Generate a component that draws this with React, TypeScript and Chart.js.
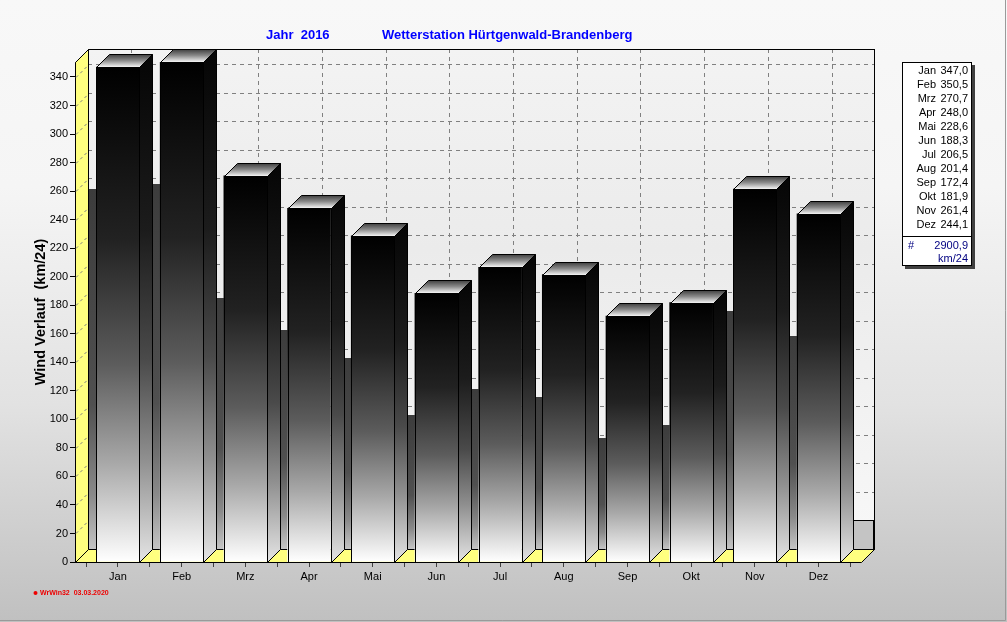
import React, { useEffect, useRef } from 'react';
import { Chart, registerables } from 'chart.js';

Chart.register(...registerables);

const MONTHS = ['Jan', 'Feb', 'Mrz', 'Apr', 'Mai', 'Jun', 'Jul', 'Aug', 'Sep', 'Okt', 'Nov', 'Dez'];
const VALUES = [347.0, 350.5, 270.7, 248.0, 228.6, 188.3, 206.5, 201.4, 172.4, 181.9, 261.4, 244.1];
const Y_TICKS = [0, 20, 40, 60, 80, 100, 120, 140, 160, 180, 200, 220, 240, 260, 280, 300, 320, 340];
const X_TICKS = [-0.5, 0, 0.5, 1, 1.5, 2, 2.5, 3, 3.5, 4, 4.5, 5, 5.5, 6, 6.5, 7, 7.5, 8, 8.5, 9, 9.5, 10, 10.5, 11, 11.5];
const Y_MAX = 350.5;
const X_MIN = -0.675;
const X_MAX = 11.667;
const TITLE_YEAR = 'Jahr  2016';
const TITLE_STATION = 'Wetterstation Hürtgenwald-Brandenberg';
const Y_TITLE = 'Wind Verlauf  (km/24)';
const TOTAL_MARK = '#';
const TOTAL_VALUE = '2900,9';
const TOTAL_UNIT = 'km/24';
const FOOTER_TEXT = 'WrWin32  03.03.2020';

const FONT = "'Liberation Sans', Arial, sans-serif";
const DEPTH = 13;
const YELLOW = '#ffff80';

type Stop = [number, string];
const FRONT_STOPS: Stop[] = [[0, '#000000'], [0.35, '#222222'], [0.6, '#5c5c5c'], [0.8, '#a8a8a8'], [1, '#ffffff']];
const SIDE_STOPS: Stop[] = [[0, '#050505'], [0.35, '#1c1c1c'], [0.6, '#4a4a4a'], [0.8, '#909090'], [1, '#e4e4e4']];
const STRIP_STOPS: Stop[] = [[0, '#3c3c3c'], [0.6, '#505050'], [0.85, '#8a8a8a'], [1, '#c4c4c4']];

function grad(ctx: CanvasRenderingContext2D, y0: number, y1: number, stops: Stop[]) {
  const g = ctx.createLinearGradient(0, y0, 0, y1);
  stops.forEach(([o, c]) => g.addColorStop(o, c));
  return g;
}

function barBoxes(chart: any) {
  const meta = chart.getDatasetMeta(0);
  return meta.data.map((el: any) => {
    const p = el.getProps(['x', 'y', 'width', 'base'], true);
    return {
      left: Math.round(p.x - p.width / 2),
      right: Math.round(p.x + p.width / 2),
      top: Math.round(p.y),
      base: Math.round(p.base),
    };
  });
}

function poly(ctx: CanvasRenderingContext2D, pts: number[][]) {
  ctx.beginPath();
  ctx.moveTo(pts[0][0], pts[0][1]);
  for (let i = 1; i < pts.length; i++) ctx.lineTo(pts[i][0], pts[i][1]);
  ctx.closePath();
}

const scenePlugin = {
  id: 'scene3d',
  beforeDraw(chart: any) {
    const { ctx, width, height } = chart;
    ctx.save();
    ctx.fillStyle = grad(ctx, 0, height, [[0, '#f8f8f8'], [0.3, '#f5f5f5'], [0.65, '#e2e2e2'], [1, '#c0c0c0']]);
    ctx.fillRect(0, 0, width, height);
    ctx.strokeStyle = '#9a9a9a';
    ctx.lineWidth = 1;
    ctx.beginPath();
    ctx.moveTo(width - 1.5, 0);
    ctx.lineTo(width - 1.5, height - 1.5);
    ctx.lineTo(0, height - 1.5);
    ctx.stroke();
    ctx.restore();
  },
  beforeDatasetsDraw(chart: any) {
    const { ctx, chartArea: a, scales } = chart;
    const xs = scales.x;
    const ys = scales.y;
    const d = DEPTH;
    const L = Math.round(a.left), R = Math.round(a.right), T = Math.round(a.top), B = Math.round(a.bottom);
    ctx.save();
    ctx.lineWidth = 1;
    ctx.fillStyle = grad(ctx, T - d, B - d, [[0, '#f3f3f3'], [0.4, '#ebebeb'], [1, '#f8f8f8']]);
    ctx.fillRect(L + d, T - d, R - L, B - T);
    ctx.setLineDash([4, 4]);
    ctx.strokeStyle = '#808080';
    Y_TICKS.forEach((v) => {
      if (v === 0) return;
      const py = Math.round(ys.getPixelForValue(v)) - d + 0.5;
      ctx.beginPath();
      ctx.moveTo(L + d, py);
      ctx.lineTo(R + d, py);
      ctx.stroke();
    });
    MONTHS.forEach((_, i) => {
      const px = Math.round(xs.getPixelForValue(i)) + d + 0.5;
      ctx.beginPath();
      ctx.moveTo(px, T - d);
      ctx.lineTo(px, B - d);
      ctx.stroke();
    });
    ctx.setLineDash([]);
    ctx.strokeStyle = '#000';
    ctx.strokeRect(L + d + 0.5, T - d + 0.5, R - L, B - T);
    const boxes = barBoxes(chart);
    boxes.forEach((b: any, i: number) => {
      const sl = i === 0 ? L + d : boxes[i - 1].right + d;
      const sr = b.left;
      const st = Math.min(b.top + 122, B - d - 2);
      if (sr <= sl) return;
      ctx.fillStyle = grad(ctx, st, B - d, STRIP_STOPS);
      ctx.fillRect(sl, st, sr - sl, B - d - st);
    });
    if (boxes.length) {
      const last = boxes[boxes.length - 1];
      const sl = last.right + d;
      const st = B - d - 29;
      ctx.fillStyle = '#c4c4c4';
      ctx.fillRect(sl, st, R + d - sl, B - d - st);
      ctx.strokeStyle = '#000';
      ctx.strokeRect(sl + 0.5, st + 0.5, R + d - sl - 1, B - d - st);
    }
    ctx.fillStyle = YELLOW;
    poly(ctx, [[L + 0.5, B + 0.5], [L + 0.5, T + 0.5], [L + d + 0.5, T - d + 0.5], [L + d + 0.5, B - d + 0.5]]);
    ctx.fill();
    ctx.strokeStyle = '#000';
    ctx.stroke();
    ctx.setLineDash([3, 3]);
    ctx.strokeStyle = '#808080';
    Y_TICKS.forEach((v) => {
      if (v === 0) return;
      const py = Math.round(ys.getPixelForValue(v)) + 0.5;
      ctx.beginPath();
      ctx.moveTo(L + 1, py);
      ctx.lineTo(L + d, py - d + 1);
      ctx.stroke();
    });
    ctx.setLineDash([]);
    ctx.fillStyle = YELLOW;
    poly(ctx, [[L + 0.5, B + 0.5], [R + 0.5, B + 0.5], [R + d + 0.5, B - d + 0.5], [L + d + 0.5, B - d + 0.5]]);
    ctx.fill();
    ctx.strokeStyle = '#000';
    ctx.stroke();
    ctx.restore();
  },
  afterDatasetsDraw(chart: any) {
    const { ctx } = chart;
    const d = DEPTH;
    const boxes = barBoxes(chart);
    ctx.save();
    ctx.lineWidth = 1;
    ctx.strokeStyle = '#000';
    boxes.forEach((b: any) => {
      const l = b.left + 0.5, r = b.right + 0.5, t = b.top + 0.5, bs = b.base + 0.5;
      ctx.fillStyle = grad(ctx, b.top - d, b.base, SIDE_STOPS);
      poly(ctx, [[r, t], [r + d, t - d], [r + d, bs - d], [r, bs]]);
      ctx.fill();
      ctx.stroke();
      ctx.fillStyle = grad(ctx, b.top - d, b.top, [[0, '#3a3a3a'], [0.5, '#8a8a8a'], [1, '#f4f4f4']]);
      poly(ctx, [[l, t], [l + d, t - d], [r + d, t - d], [r, t]]);
      ctx.fill();
      ctx.stroke();
      ctx.strokeRect(l, t, b.right - b.left, b.base - b.top);
    });
    ctx.restore();
  },
  afterDraw(chart: any) {
    const { ctx } = chart;
    ctx.save();
    ctx.fillStyle = '#0000ff';
    ctx.font = `bold 13px ${FONT}`;
    ctx.textBaseline = 'alphabetic';
    ctx.textAlign = 'left';
    ctx.fillText(TITLE_YEAR, 266, 39);
    ctx.fillText(TITLE_STATION, 382, 39);

    const bx = 902, by = 62, bw = 70, bh = 204;
    ctx.fillStyle = '#404040';
    ctx.fillRect(bx + 3, by + 3, bw, bh);
    ctx.fillStyle = '#ffffff';
    ctx.fillRect(bx, by, bw, bh);
    ctx.strokeStyle = '#000';
    ctx.lineWidth = 1;
    ctx.strokeRect(bx + 0.5, by + 0.5, bw - 1, bh - 1);
    ctx.font = `11px ${FONT}`;
    ctx.textBaseline = 'middle';
    ctx.fillStyle = '#000';
    MONTHS.forEach((m, i) => {
      const yy = by + 9 + i * 14;
      ctx.textAlign = 'right';
      ctx.fillText(m, 936, yy);
      ctx.fillText(VALUES[i].toFixed(1).replace('.', ','), 968, yy);
    });
    const sepY = by + 9 + 12 * 14 - 3;
    ctx.beginPath();
    ctx.moveTo(bx, sepY + 0.5);
    ctx.lineTo(bx + bw, sepY + 0.5);
    ctx.stroke();
    ctx.fillStyle = '#000080';
    ctx.textAlign = 'left';
    ctx.fillText(TOTAL_MARK, 908, sepY + 10);
    ctx.textAlign = 'right';
    ctx.fillText(TOTAL_VALUE, 968, sepY + 10);
    ctx.fillText(TOTAL_UNIT, 968, sepY + 23);

    ctx.fillStyle = '#ee0000';
    ctx.beginPath();
    ctx.arc(35.5, 593, 2, 0, Math.PI * 2);
    ctx.fill();
    ctx.font = `bold 7px ${FONT}`;
    ctx.textAlign = 'left';
    ctx.textBaseline = 'middle';
    ctx.fillText(FOOTER_TEXT, 40, 593);
    ctx.restore();
  },
};

export default function App() {
  const ref = useRef<HTMLCanvasElement>(null);
  useEffect(() => {
    const canvas = ref.current;
    if (!canvas) return;
    Chart.defaults.font.family = FONT;
    const chart = new Chart(canvas, {
      type: 'bar',
      data: {
        datasets: [
          {
            data: VALUES.map((v, i) => ({ x: i, y: v })),
            barThickness: 43,
            borderWidth: 0,
            backgroundColor: (c: any) => {
              const ch = c.chart;
              if (!ch.chartArea || c.type !== 'data') return '#000';
              const top = ch.scales.y.getPixelForValue(c.parsed.y);
              const base = ch.scales.y.getPixelForValue(0);
              return grad(ch.ctx, top, base, FRONT_STOPS);
            },
          },
        ],
      },
      options: {
        responsive: false,
        devicePixelRatio: 1,
        animation: false,
        layout: { padding: { left: 0, top: 62, right: 146, bottom: 30 } },
        plugins: { legend: { display: false }, tooltip: { enabled: false } },
        scales: {
          x: {
            type: 'linear',
            offset: false,
            min: X_MIN,
            max: X_MAX,
            afterBuildTicks: (s: any) => {
              s.ticks = X_TICKS.map((v) => ({ value: v }));
            },
            afterFit: (s: any) => {
              s.height = 30;
            },
            ticks: {
              autoSkip: false,
              maxRotation: 0,
              padding: 3,
              color: '#000',
              font: { size: 11 },
              callback: (v: any) => (Number.isInteger(v) ? MONTHS[v] : ''),
            },
            grid: { drawOnChartArea: false, tickLength: 5, color: '#404040', offset: false },
            border: { display: false },
          },
          y: {
            min: 0,
            max: Y_MAX,
            afterBuildTicks: (s: any) => {
              s.ticks = Y_TICKS.map((v) => ({ value: v }));
            },
            afterFit: (s: any) => {
              s.width = 75;
            },
            ticks: { padding: 2, color: '#000', font: { size: 11 } },
            grid: { drawOnChartArea: false, tickLength: 5, color: '#000' },
            border: { display: true, color: '#000' },
            title: {
              display: true,
              text: Y_TITLE,
              color: '#000',
              font: { size: 14.5, weight: 'bold' },
              padding: { top: 32, bottom: 0 },
            },
          },
        },
      },
      plugins: [scenePlugin],
    } as any);
    return () => chart.destroy();
  }, []);
  return (
    <div style={{ position: 'fixed', left: 0, top: 0, width: 1007, height: 622 }}>
      <canvas ref={ref} width={1007} height={622} style={{ display: 'block', width: 1007, height: 622 }} />
    </div>
  );
}
